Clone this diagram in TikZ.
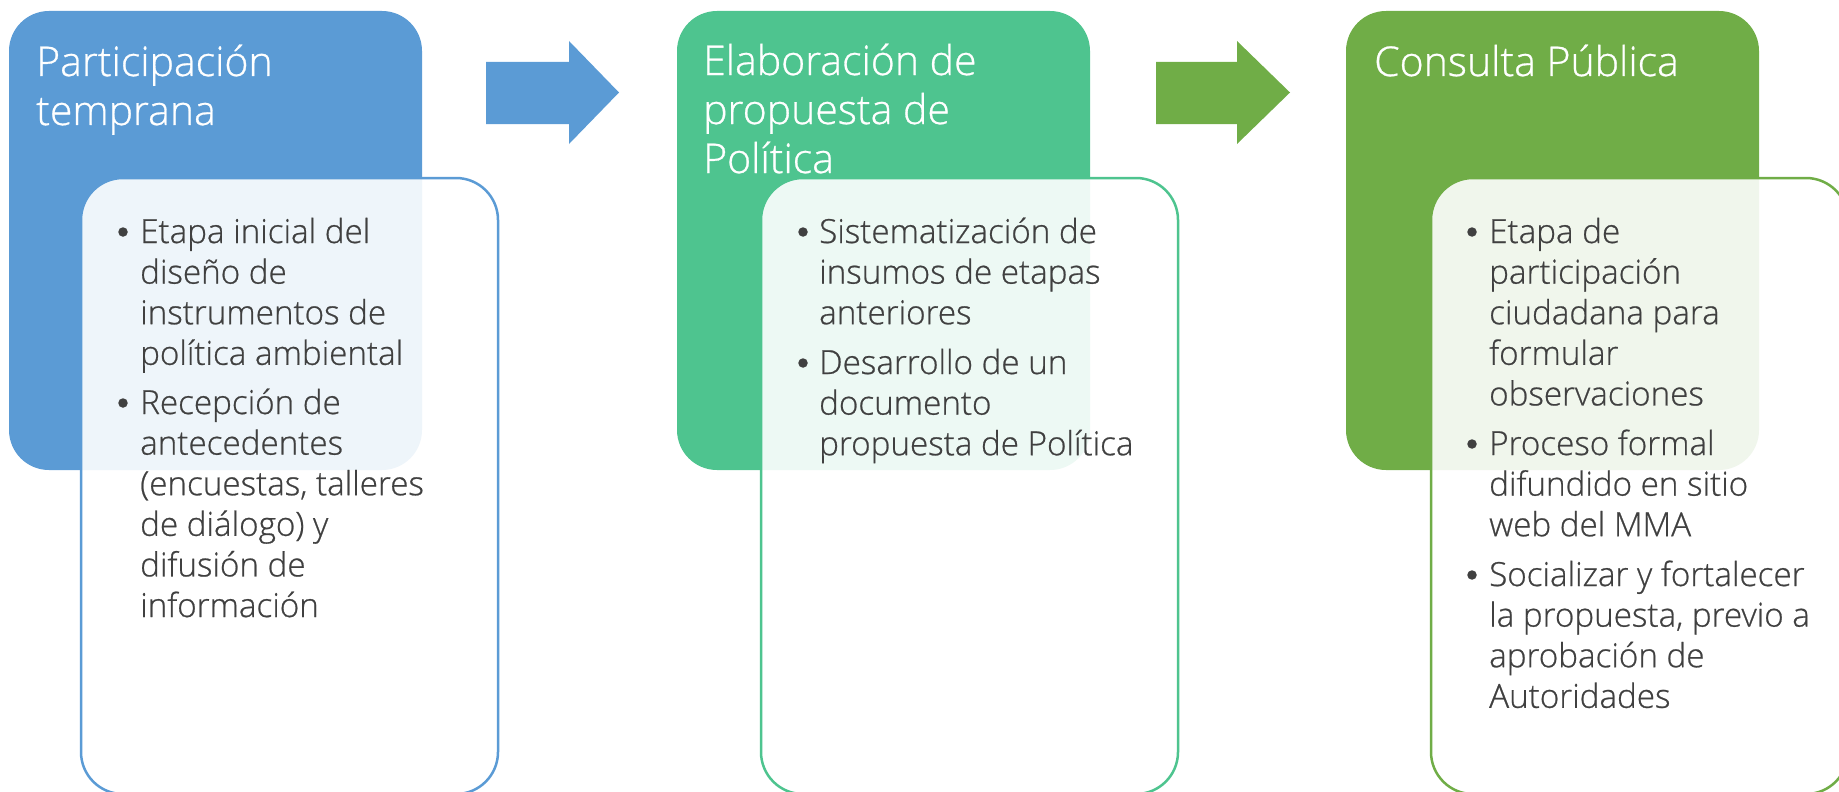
\documentclass[tikz,border=0pt]{standalone}
\usepackage{fontspec}
\IfFontExistsTF{Open Sans Light}{\setmainfont{Open Sans Light}[FakeBold=0.7]}{\setmainfont{Open Sans}}
\definecolor{cblue}{HTML}{5B9BD5}
\definecolor{cteal}{HTML}{4EC48F}
\definecolor{cgreen}{HTML}{70AD47}
\definecolor{ctext}{HTML}{404040}
\newcommand\mylines[1]{\parbox[t]{420pt}{\raggedright #1}}
\begin{document}
\begin{tikzpicture}[x=1pt,y=-1pt,
  header/.style={rectangle, rounded corners=40pt, inner sep=0pt, minimum width=413pt, minimum height=459pt},
  innerbox/.style={rectangle, rounded corners=42pt, inner sep=0pt, line width=2.5pt, fill=white, fill opacity=0.9, minimum width=417pt, minimum height=616pt},
  htext/.style={anchor=base west, inner sep=0pt, text=white, font=\fontsize{41}{49}\selectfont},
  btext/.style={anchor=base west, inner sep=0pt, text=ctext, font=\fontsize{33.2}{40.6}\selectfont},
  bdot/.style={circle, fill=ctext, inner sep=0pt, minimum size=9.5pt},
]
\useasboundingbox (0,0) rectangle (1839,792);
\clip (0,0) rectangle (1839,792);

% stage 1
\node[header, fill=cblue] (h1) at (215.5,240.5) {};
\node[innerbox, draw=cblue] (i1) at (289.5,486) {};
\node[htext] (t1) at (36,76) {\mylines{Participación\\temprana}};
\node[bdot] (d11) at (123,232) {};
\node[btext] (b11) at (140,243) {\mylines{Etapa inicial del\\diseño de\\instrumentos de\\política ambiental}};
\node[bdot] (d12) at (123,403) {};
\node[btext] (b12) at (140,414) {\mylines{Recepción de\\antecedentes\\(encuestas, talleres\\de diálogo) y\\difusión de\\información}};

% arrow 1
\fill[cblue] (486,62) -- (569,62) -- (569,41) -- (619,92.5) -- (569,144) -- (569,124) -- (486,124) -- cycle;

% stage 2
\node[header, fill=cteal] (h2) at (883.5,240.5) {};
\node[innerbox, draw=cteal] (i2) at (969.5,486) {};
\node[htext] (t2) at (703,75) {\mylines{Elaboración de\\propuesta de\\Política}};
\node[bdot] (d21) at (803,232) {};
\node[btext] (b21) at (819,243) {\mylines{Sistematización de\\insumos de etapas\\anteriores}};
\node[bdot] (d22) at (803,363) {};
\node[btext] (b22) at (819,374) {\mylines{Desarrollo de un\\documento\\propuesta de Política}};

% arrow 2
\fill[cgreen] (1156,62) -- (1237,62) -- (1237,41) -- (1290,92.5) -- (1237,144) -- (1237,124) -- (1156,124) -- cycle;

% stage 3
\node[header, fill=cgreen] (h3) at (1552.5,240.5) {};
\node[innerbox, draw=cgreen] (i3) at (1639.5,486) {};
\node[htext] (t3) at (1374,76) {\mylines{Consulta Pública}};
\node[bdot] (d31) at (1472,232) {};
\node[btext] (b31) at (1489,243) {\mylines{Etapa de\\participación\\ciudadana para\\formular\\observaciones}};
\node[bdot] (d32) at (1472,444) {};
\node[btext] (b32) at (1489,455) {\mylines{Proceso formal\\difundido en sitio\\web del MMA}};
\node[bdot] (d33) at (1472,575) {};
\node[btext] (b33) at (1489,586) {\mylines{Socializar y fortalecer\\la propuesta, previo a\\aprobación de\\Autoridades}};
\end{tikzpicture}
\end{document}
